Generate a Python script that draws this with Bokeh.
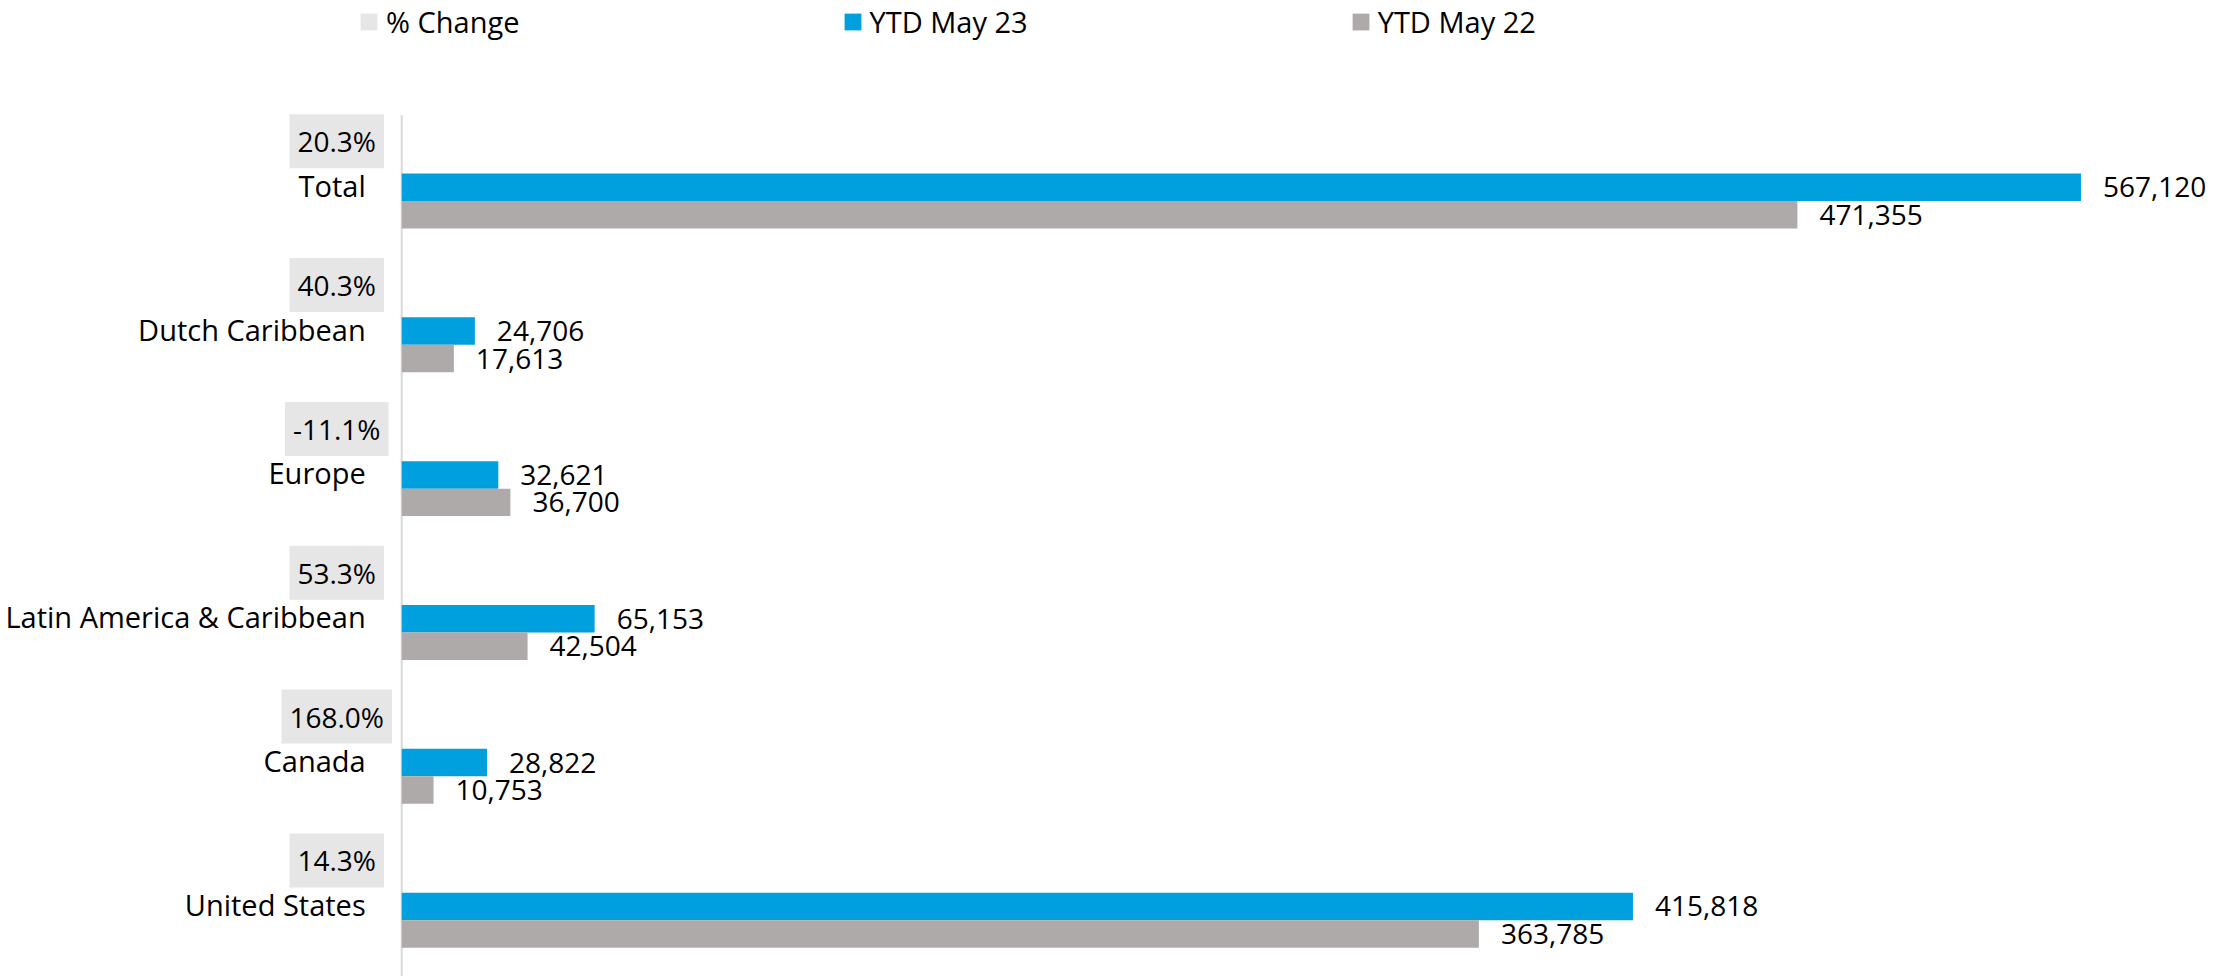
from bokeh.plotting import figure
from bokeh.models import Range1d, Legend, LegendItem, ColumnDataSource
from bokeh.transform import dodge
from bokeh.embed import file_html
from bokeh.resources import INLINE
from bokeh.core.properties import value

regions = ["Total", "Dutch Caribbean", "Europe", "Latin America & Caribbean", "Canada", "United States"]
ytd_may23 = [567120, 24706, 32621, 65153, 28822, 415818]
ytd_may22 = [471355, 17613, 36700, 42504, 10753, 363785]
pct_change = [20.3, 40.3, -11.1, 53.3, 168.0, 14.3]

BLUE = "#00A0DF"
GRAY = "#AEAAAA"
LIGHT = "#E6E6E6"
FONT = "Open Sans"
FS = "28px"

n = len(regions)
src = ColumnDataSource(dict(
    region=regions,
    pos=[n - 1 - i for i in range(n)],   # first category at the top
    may23=ytd_may23,
    may22=ytd_may22,
    lab23=[f"{v:,}" for v in ytd_may23],
    lab22=[f"{v:,}" for v in ytd_may22],
    pct=[f"{v:.1f}%" for v in pct_change],
    zero=[0] * n,
))

p = figure(width=2240, height=976,
           y_range=Range1d(-0.487, 6.298),
           x_range=Range1d(-135500, 621000),
           output_backend="svg", toolbar_location=None,
           min_border_left=0, min_border_right=0,
           min_border_top=0, min_border_bottom=0,
           outline_line_color=None)

# category axis line spanning the category bands
p.segment(x0=[0], y0=[-0.5], x1=[0], y1=[n - 0.5], line_color="#D9D9D9", line_width=2)

bh = 0.191
r_pct = p.hbar(y=dodge("pos", bh), left=0, right="zero", height=bh,
               source=src, fill_color=LIGHT, line_color=None)
r23 = p.hbar(y=dodge("pos", 0), left=0, right="may23", height=bh,
             source=src, fill_color=BLUE, line_color=None)
r22 = p.hbar(y=dodge("pos", -bh), left=0, right="may22", height=bh,
             source=src, fill_color=GRAY, line_color=None)

txt = dict(text_font=value(FONT), text_color="black", text_baseline="middle")
p.text(x="may23", y=dodge("pos", 0), text="lab23", source=src,
       x_offset=22, text_align="left", text_font_size=FS, **txt)
p.text(x="may22", y=dodge("pos", -bh), text="lab22", source=src,
       x_offset=22, text_align="left", text_font_size=FS, **txt)
# category names
p.text(x="zero", y=dodge("pos", 0), text="region", source=src,
       x_offset=-36, y_offset=-2, text_align="right", text_font_size="29px", **txt)
# % change boxes
p.text(x="zero", y=dodge("pos", 0), text="pct", source=src,
       x_offset=-65, y_offset=-46, text_align="center", text_font_size=FS,
       background_fill_color=LIGHT, padding=8, **txt)

legend = Legend(items=[LegendItem(label="% Change", renderers=[r_pct]),
                       LegendItem(label="YTD May 23", renderers=[r23]),
                       LegendItem(label="YTD May 22", renderers=[r22])],
                orientation="horizontal", location=(358, 935),
                glyph_width=21, glyph_height=21, label_standoff=7, spacing=322,
                padding=0, margin=0, border_line_color=None, background_fill_alpha=0,
                label_text_font=FONT, label_text_font_size="29px", label_text_color="black")
p.add_layout(legend)

p.xaxis.visible = False
p.yaxis.visible = False
p.xgrid.visible = False
p.ygrid.visible = False

open("out.html", "w").write(file_html(p, INLINE))
